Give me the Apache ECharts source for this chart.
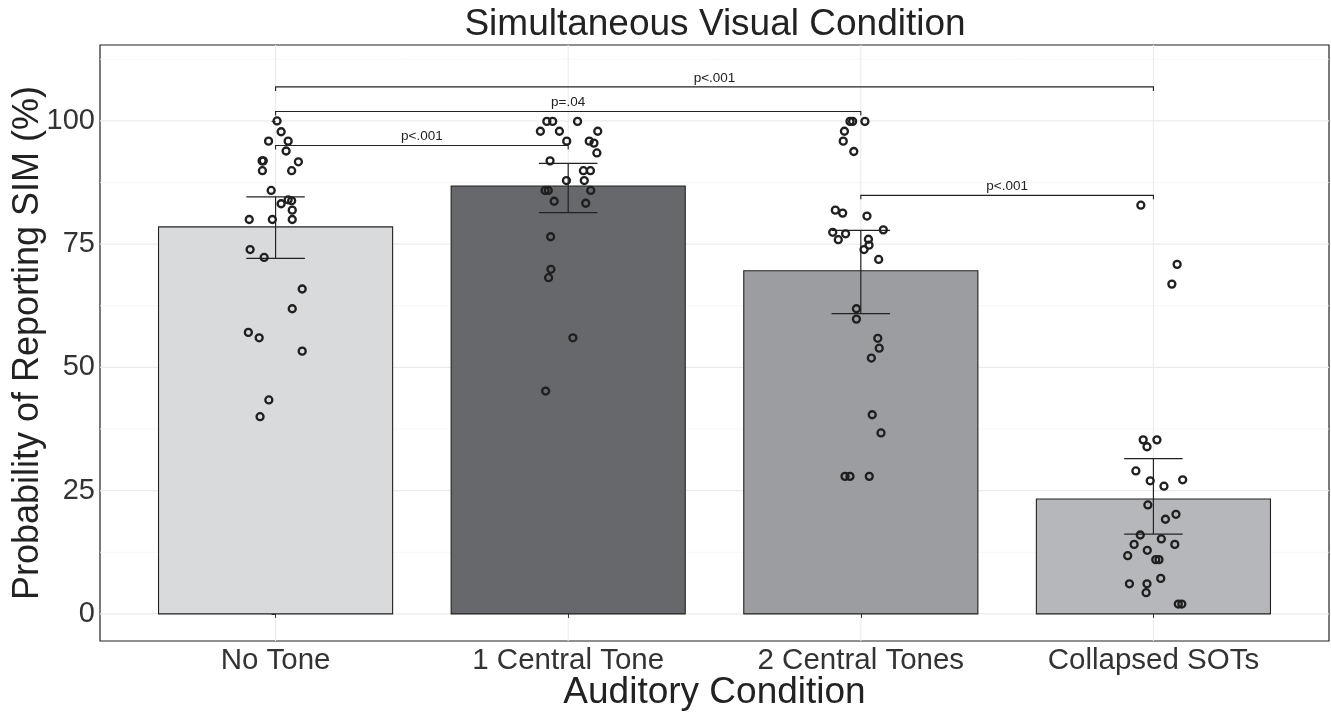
<!DOCTYPE html>
<html>
<head>
<meta charset="utf-8">
<script src="https://cdn.jsdelivr.net/npm/echarts@6/dist/echarts.min.js"></script>
<style>
  html, body { margin: 0; padding: 0; background: #fff; }
  #chart { width: 1331px; height: 712px; }
</style>
</head>
<body>
<div id="chart"></div>
<script>
const categories = ["No Tone", "1 Central Tone", "2 Central Tones", "Collapsed SOTs"];
const barMeans = [78.5, 86.8, 69.6, 23.3];
const ciLow = [72.1, 81.4, 60.9, 16.2];
const ciHigh = [84.6, 91.4, 77.8, 31.5];
const barColors = ["#d9dadc", "#67686c", "#9c9da1", "#b6b7ba"];

// individual participants, value + horizontal jitter (category units)
const noTone = [100, 97.8, 95.9, 95.9, 93.9, 91.9, 91.9, 91.7, 89.9, 89.9, 85.9, 84.0, 83.8, 83.2, 81.9, 80, 80, 80, 73.9, 72.3, 65.9, 61.9, 57.1, 56.0, 53.3, 43.4, 40.0];
const noToneJit = [0.005, 0.019, -0.024, 0.043, 0.036, -0.046, -0.042, 0.078, -0.045, 0.055, -0.015, 0.043, 0.055, 0.019, 0.057, -0.090, -0.011, 0.057, -0.087, -0.039, 0.091, 0.057, -0.093, -0.056, 0.091, -0.023, -0.053];
const oneTone = [99.9, 99.9, 99.9, 97.9, 97.9, 97.9, 95.9, 95.9, 95.5, 93.5, 91.9, 89.9, 89.9, 87.9, 87.9, 85.9, 85.9, 85.9, 83.7, 83.3, 76.5, 69.9, 68.2, 56.0, 45.2];
const oneToneJit = [-0.073, -0.053, 0.032, -0.095, -0.030, 0.101, -0.005, 0.072, 0.088, 0.098, -0.062, 0.052, 0.076, -0.006, 0.055, -0.079, -0.068, 0.077, -0.048, 0.060, -0.060, -0.059, -0.067, 0.016, -0.077];
const twoTones = [99.9, 99.9, 99.9, 97.9, 95.9, 93.8, 81.9, 81.3, 80.7, 77.4, 77.1, 77.9, 75.9, 76.0, 74.8, 73.9, 71.9, 61.9, 59.8, 55.9, 53.9, 51.9, 40.4, 36.7, 27.9, 27.9, 27.9];
const twoTonesJit = [-0.037, -0.028, 0.014, -0.056, -0.060, -0.024, -0.087, -0.062, 0.021, -0.096, -0.052, 0.077, -0.077, 0.026, 0.028, 0.011, 0.061, -0.015, -0.015, 0.058, 0.063, 0.036, 0.039, 0.069, -0.054, -0.037, 0.029];
const collapsed = [82.9, 70.9, 66.9, 35.3, 33.9, 35.3, 29.0, 27.0, 27.2, 25.9, 22.1, 19.2, 20.2, 16.0, 15.2, 14.1, 14.1, 12.9, 11.8, 11.0, 11.0, 6.1, 6.1, 7.2, 4.3, 2.0, 2.0];
const collapsedJit = [-0.043, 0.081, 0.063, -0.035, -0.022, 0.012, -0.060, -0.011, 0.100, 0.036, -0.019, 0.041, 0.077, -0.045, 0.027, -0.066, 0.073, -0.021, -0.088, 0.008, 0.019, -0.082, -0.022, 0.025, -0.025, 0.085, 0.097];

// significance brackets
const bracketFrom = [0, 0, 0, 2];
const bracketTo = [3, 2, 1, 3];
const bracketY = [106.9, 101.9, 95.0, 84.9];
const bracketText = ["p<.001", "p=.04", "p<.001", "p<.001"];

const yTicks = [0, 25, 50, 75, 100];
const yMinor = [12.5, 37.5, 62.5, 87.5, 112.5];
const xTicks = [0, 1, 2, 3];

const font = "'Liberation Sans', Arial, Helvetica, sans-serif";
const ink = "#222222";

const groups = [[noTone, noToneJit], [oneTone, oneToneJit], [twoTones, twoTonesJit], [collapsed, collapsedJit]];
const points = [];
groups.forEach(([vals, jit], i) => {
  vals.forEach((v, k) => points.push([i + jit[k], v]));
});

function gridLines(params, api) {
  const cs = params.coordSys;
  const v = api.value(0);
  const kind = api.value(1);
  let shape;
  if (kind === 2) {
    const x = api.coord([v, 0])[0];
    shape = { x1: x, y1: cs.y, x2: x, y2: cs.y + cs.height };
  } else {
    const y = api.coord([0, v])[1];
    shape = { x1: cs.x, y1: y, x2: cs.x + cs.width, y2: y };
  }
  return {
    type: "line",
    shape,
    style: { stroke: kind === 0 ? "#f5f5f5" : "#ebebeb", lineWidth: kind === 0 ? 0.8 : 1.1 }
  };
}

const gridData = yTicks.map(v => [v, 1])
  .concat(yMinor.map(v => [v, 0]))
  .concat(xTicks.map(v => [v, 2]));

const option = {
  animation: false,
  title: {
    text: "Simultaneous Visual Condition",
    left: 710,
    textAlign: "center",
    top: 1,
    textStyle: { fontFamily: font, fontSize: 37, fontWeight: "normal", color: ink }
  },
  grid: {
    left: 100, right: 2, top: 45, bottom: 71,
    outerBoundsMode: "none",
    containLabel: false,
    show: true, borderColor: ink, borderWidth: 1.2, backgroundColor: "#fff"
  },
  xAxis: {
    type: "value",
    min: -0.6,
    max: 3.6,
    name: "Auditory Condition",
    nameLocation: "middle",
    nameMoveOverlap: false,
    nameGap: 33,
    nameTextStyle: { fontFamily: font, fontSize: 37, color: ink },
    axisLine: { show: false },
    splitLine: { show: false },
    axisTick: { show: true, customValues: xTicks, length: 4, lineStyle: { color: "#333" } },
    axisLabel: {
      customValues: xTicks,
      formatter: v => categories[Math.round(v)],
      fontFamily: font, fontSize: 29.5, color: "#333", margin: 5
    }
  },
  yAxis: {
    type: "value",
    min: -5.5,
    max: 115.4,
    name: "Probability of Reporting SIM (%)",
    nameLocation: "middle",
    nameMoveOverlap: false,
    nameGap: 54,
    nameTextStyle: { fontFamily: font, fontSize: 36, color: ink },
    axisLine: { show: false },
    splitLine: { show: false },
    axisTick: { show: true, customValues: yTicks, length: 4, lineStyle: { color: "#333" } },
    axisLabel: {
      customValues: yTicks,
      fontFamily: font, fontSize: 29, color: "#333", margin: 5
    }
  },
  series: [
    {
      type: "custom",
      name: "grid",
      z: 0,
      silent: true,
      renderItem: gridLines,
      data: gridData
    },
    {
      type: "custom",
      name: "bars",
      z: 1,
      renderItem: (params, api) => {
        const i = api.value(0);
        const v = api.value(1);
        const p0 = api.coord([i - 0.4, v]);
        const p1 = api.coord([i + 0.4, 0]);
        return {
          type: "rect",
          shape: { x: p0[0], y: p0[1], width: p1[0] - p0[0], height: p1[1] - p0[1] },
          style: { fill: barColors[i], stroke: ink, lineWidth: 1.1 }
        };
      },
      data: barMeans.map((v, i) => [i, v])
    },
    {
      type: "custom",
      name: "ci",
      z: 2,
      renderItem: (params, api) => {
        const i = api.value(0);
        const lo = api.coord([i, api.value(1)]);
        const hi = api.coord([i, api.value(2)]);
        const half = api.size([0.1, 0])[0];
        const st = { stroke: ink, lineWidth: 1.2 };
        return {
          type: "group",
          children: [
            { type: "line", shape: { x1: lo[0], y1: lo[1], x2: hi[0], y2: hi[1] }, style: st },
            { type: "line", shape: { x1: lo[0] - half, y1: lo[1], x2: lo[0] + half, y2: lo[1] }, style: st },
            { type: "line", shape: { x1: hi[0] - half, y1: hi[1], x2: hi[0] + half, y2: hi[1] }, style: st }
          ]
        };
      },
      data: barMeans.map((v, i) => [i, ciLow[i], ciHigh[i]])
    },
    {
      type: "scatter",
      name: "participants",
      z: 3,
      symbol: "circle",
      symbolSize: 7,
      itemStyle: { color: "rgba(0,0,0,0)", borderColor: "#1f1f1f", borderWidth: 2.3, opacity: 1 },
      data: points
    },
    {
      type: "custom",
      name: "brackets",
      z: 4,
      renderItem: (params, api) => {
        const a = api.coord([api.value(0), api.value(2)]);
        const b = api.coord([api.value(1), api.value(2)]);
        const st = { stroke: ink, lineWidth: 1.1, fill: null };
        return {
          type: "group",
          children: [
            {
              type: "polyline",
              shape: { points: [[a[0], a[1] + 4], [a[0], a[1]], [b[0], b[1]], [b[0], b[1] + 4]] },
              style: st
            },
            {
              type: "text",
              style: {
                text: bracketText[params.dataIndex],
                x: (a[0] + b[0]) / 2,
                y: a[1] - 2,
                align: "center",
                verticalAlign: "bottom",
                fontFamily: font,
                fontSize: 13.5,
                fill: ink
              }
            }
          ]
        };
      },
      data: bracketFrom.map((f, i) => [f, bracketTo[i], bracketY[i]])
    }
  ]
};

const chart = echarts.init(document.getElementById("chart"));
chart.setOption(option);
window.addEventListener("resize", () => chart.resize());
</script>
</body>
</html>
